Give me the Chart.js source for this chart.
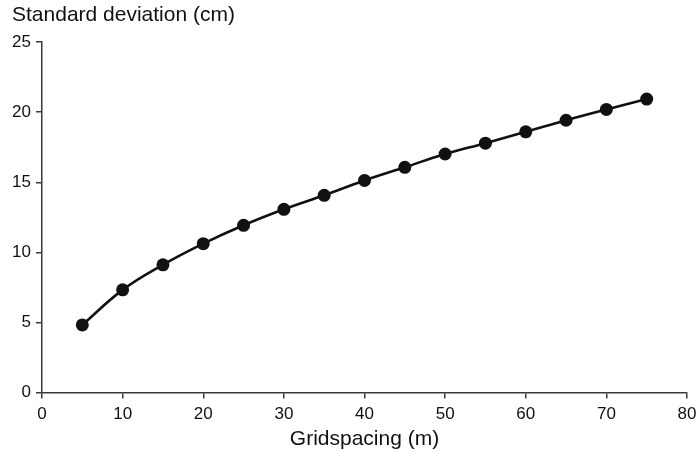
<!DOCTYPE html>
<html>
<head>
<meta charset="utf-8">
<script src="https://cdn.jsdelivr.net/npm/chart.js@4/dist/chart.umd.min.js"></script>
<style>
  html, body { margin: 0; padding: 0; background: #fff; }
  #wrap { width: 699px; height: 459px; }
</style>
</head>
<body>
<div id="wrap"><canvas id="sdChart"></canvas></div>
<script>
// Grid spacing (m) and the standard deviation measured at each one (cm)
const gridSpacing = [5, 10, 15, 20, 25, 30, 35, 40, 45, 50, 55, 60, 65, 70, 75];
const stdDeviation = [4.82, 7.32, 9.11, 10.62, 11.93, 13.07, 14.07, 15.13, 16.07, 17.02, 17.79, 18.6, 19.43, 20.2, 20.94];

const xTicks = [0, 10, 20, 30, 40, 50, 60, 70, 80];
const yTicks = [0, 5, 10, 15, 20, 25];

const ink = '#111';
const axisColor = '#3a3a3a';
const fontFamily = 'Liberation Sans, Arial, sans-serif';

const points = gridSpacing.map((x, i) => ({ x: x, y: stdDeviation[i] }));

const ctx = document.getElementById('sdChart').getContext('2d');
const chart = new Chart(ctx, {
  type: 'line',
  data: {
    datasets: [{
      data: points,
      borderColor: ink,
      backgroundColor: ink,
      borderWidth: 2.6,
      pointRadius: 6.5,
      pointBackgroundColor: ink,
      pointBorderWidth: 0,
      tension: 0.4,
      fill: false
    }]
  },
  options: {
    responsive: true,
    maintainAspectRatio: false,
    animation: false,
    layout: { padding: { left: 12, right: 0, top: 0, bottom: 7 } },
    scales: {
      x: {
        type: 'linear',
        min: 0,
        max: 80,
        afterBuildTicks: (axis) => { axis.ticks = xTicks.map(v => ({ value: v })); },
        // leave just enough room on the right for the "80" label
        afterFit: (axis) => { axis.paddingRight = 12; },
        ticks: { color: ink, font: { family: fontFamily, size: 17 }, padding: 6, maxRotation: 0 },
        grid: { display: true, drawOnChartArea: false, drawTicks: true, tickLength: 6, color: axisColor, lineWidth: 1.5 },
        border: { display: true, color: axisColor, width: 1.5 },
        title: { display: true, text: 'Gridspacing (m)', color: ink, font: { family: fontFamily, size: 21 }, padding: { top: -4, bottom: 0 } }
      },
      y: {
        type: 'linear',
        min: 0,
        max: 25,
        afterBuildTicks: (axis) => { axis.ticks = yTicks.map(v => ({ value: v })); },
        afterFit: (axis) => { axis.width = 30; },
        ticks: { color: ink, font: { family: fontFamily, size: 17 }, padding: 5 },
        grid: { display: true, drawOnChartArea: false, drawTicks: true, tickLength: 6, color: axisColor, lineWidth: 1.5 },
        border: { display: true, color: axisColor, width: 1.5 }
      }
    },
    plugins: {
      legend: { display: false },
      tooltip: { enabled: false },
      title: {
        display: true,
        text: 'Standard deviation (cm)',
        align: 'start',
        color: ink,
        font: { family: fontFamily, size: 21, weight: 'normal' },
        padding: { top: 3, bottom: 14 }
      }
    }
  }
});
</script>
</body>
</html>
